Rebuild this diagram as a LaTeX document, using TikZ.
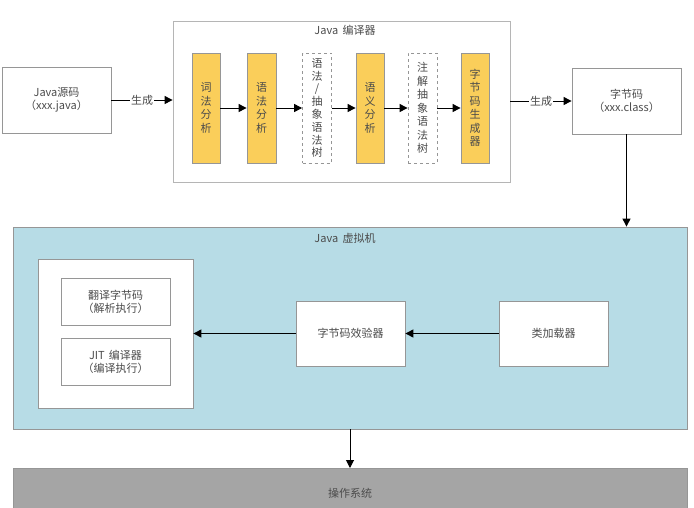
\documentclass[tikz,border=0pt]{standalone}
\usepackage{fontspec}
\setmainfont{Noto Sans CJK SC}
\usetikzlibrary{arrows.meta}
\definecolor{txt}{RGB}{75,75,75}
\definecolor{yel}{RGB}{250,206,90}
\definecolor{jvmblue}{RGB}{183,220,230}
\definecolor{osgray}{RGB}{165,165,165}
\definecolor{bord}{RGB}{150,150,150}
\tikzset{
  base/.style={inner sep=0pt, text=txt, font=\fontsize{11}{13}\selectfont, align=center},
  plainbox/.style={base, draw=bord, line width=0.8pt, fill=white},
  yelbox/.style={base, draw=bord, line width=0.8pt, fill=yel, minimum height=110pt, font=\fontsize{11}{13.5}\selectfont},
  dashbox/.style={base, draw=bord, line width=0.8pt, dashed, fill=white, minimum height=110pt, font=\fontsize{11}{13.5}\selectfont},
  arr/.style={-{Triangle[length=8pt,width=8pt]}, line width=1pt, black},
  lbl/.style={base, fill=white, inner sep=1pt},
}
\begin{document}
\begin{tikzpicture}[x=1pt,y=-1pt]
\useasboundingbox (0,0) rectangle (694,507);
\clip (0,0) rectangle (694,507);
% source
\node[plainbox, minimum width=109pt, minimum height=66pt] (src) at (56.5,100) {Java源码\\（xxx.java）};
% compiler
\node[plainbox, draw=bord!70, minimum width=337pt, minimum height=161pt] (comp) at (341.5,101.5) {};
\node[base] (comptitle) at (345,30) {Java\, 编译器};
\node[yelbox, minimum width=28pt] (y1) at (206,108) {词\\法\\分\\析};
\node[yelbox, minimum width=29pt] (y2) at (261.5,108) {语\\法\\分\\析};
\node[dashbox, minimum width=29pt, font=\fontsize{11}{12.8}\selectfont] (d1) at (317,108) {语\\法\\/\\抽\\象\\语\\法\\树};
\node[yelbox, minimum width=28pt] (y3) at (370,108) {语\\义\\分\\析};
\node[dashbox, minimum width=29pt] (d2) at (422.5,108) {注\\解\\抽\\象\\语\\法\\树};
\node[yelbox, minimum width=28pt] (y4) at (475,108) {字\\节\\码\\生\\成\\器};
% bytecode
\node[plainbox, minimum width=109pt, minimum height=66pt] (bc) at (626.5,101) {字节码\\（xxx.class）};
% JVM
\node[plainbox, fill=jvmblue, minimum width=674pt, minimum height=202pt] (jvm) at (350,328) {};
\node[base] (jvmtitle) at (345,238) {Java\, 虚拟机};
\node[plainbox, minimum width=155pt, minimum height=149pt] (inner) at (115.5,333.5) {};
\node[plainbox, minimum width=109pt, minimum height=47pt] (t1) at (115.5,301.5) {翻译字节码\\（解析执行）};
\node[plainbox, minimum width=109pt, minimum height=47pt] (t2) at (115.5,361.5) {JIT\, 编译器\\（编译执行）};
\node[plainbox, minimum width=109pt, minimum height=65pt] (ver) at (350.5,333.5) {字节码效验器};
\node[plainbox, minimum width=109pt, minimum height=65pt] (cl) at (553.5,333.5) {类加载器};
% OS
\node[plainbox, fill=osgray, draw=bord, minimum width=674pt, minimum height=60pt, anchor=north] (os) at (350,468) {};
\node[base] (ostext) at (350,493) {操作系统};
% arrows
\draw[arr] (src.east) -- (src.east -| comp.west) node[lbl, midway] {生成};
\draw[arr] (bc.west -| comp.east) -- (bc.west) node[lbl, midway] {生成};
\draw[arr] (y1) -- (y2);
\draw[arr] (y2) -- (d1);
\draw[arr] (d1) -- (y3);
\draw[arr] (y3) -- (d2);
\draw[arr] (d2) -- (y4);
\draw[arr] (bc.south) -- (bc.south |- jvm.north);
\draw[arr] (cl.west) -- (ver.east);
\draw[arr] (ver.west) -- (inner.east);
\draw[arr] (jvm.south) -- (os.north);
\end{tikzpicture}
\end{document}
